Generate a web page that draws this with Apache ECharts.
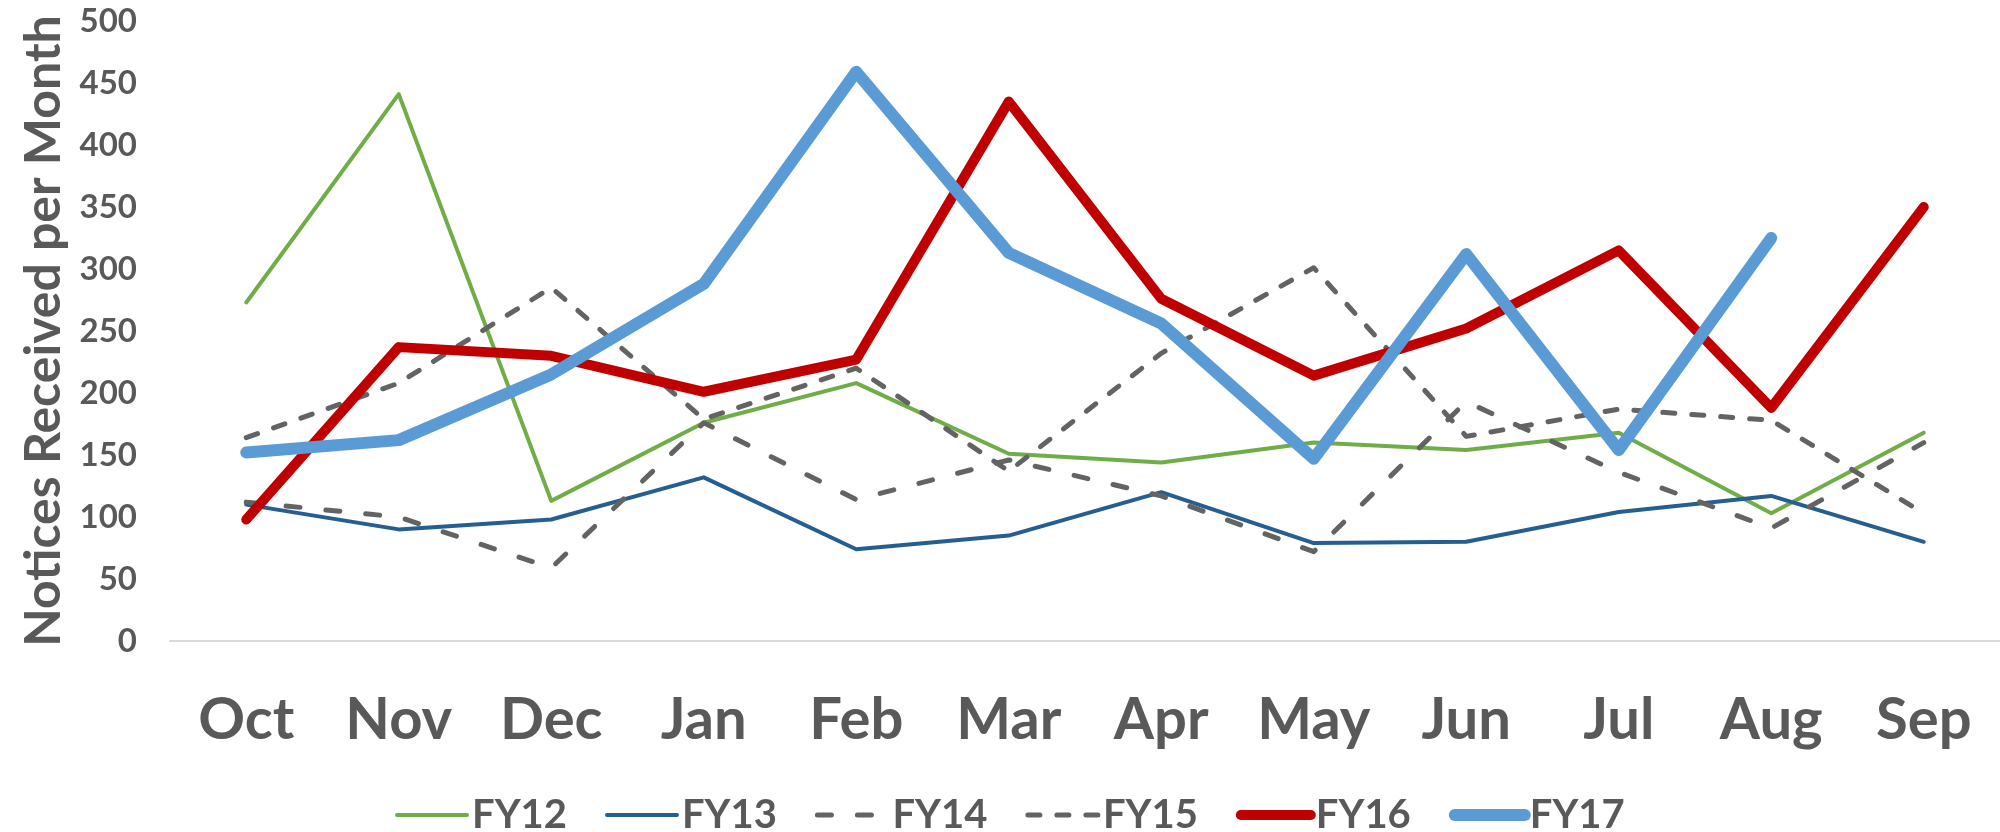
<!DOCTYPE html>
<html>
<head>
<meta charset="utf-8">
<script src="https://cdn.jsdelivr.net/npm/echarts@6/dist/echarts.min.js"></script>
<style>
  html, body { margin: 0; padding: 0; background: #fff; }
  #chart { width: 2000px; height: 832px; }
</style>
</head>
<body>
<div id="chart"></div>
<script>
// months of the fiscal year
const months = ['Oct', 'Nov', 'Dec', 'Jan', 'Feb', 'Mar', 'Apr', 'May', 'Jun', 'Jul', 'Aug', 'Sep']

// notices received per month
const fy12 = [273, 441, 113, 176, 208, 151, 144, 160, 154, 168, 103, 168]
const fy13 = [110, 90, 98, 132, 74, 85, 120, 79, 80, 104, 117, 80]
const fy14 = [112, 100, 59, 176, 114, 146, 117, 72, 193, 136, 91, 160]
const fy15 = [164, 208, 285, 179, 220, 137, 232, 301, 165, 187, 178, 103]
const fy16 = [98, 237, 230, 201, 227, 435, 276, 214, 252, 315, 188, 350]
const fy17 = [152, 162, 215, 288, 459, 313, 256, 147, 312, 154, 325, null]

const textColor = '#595959'
const font = 'Lato'

let myChart = echarts.init(document.getElementById('chart'))

function lineSeries(name, data, color, width, dash) {
  return {
    name: name,
    type: 'line',
    data: data,
    symbol: 'none',
    silent: true,
    animation: false,
    itemStyle: { color: color },
    lineStyle: {
      color: color,
      width: width,
      type: dash || 'solid',
      cap: 'round',
      join: 'round'
    }
  }
}

let option = {
  backgroundColor: '#fff',
  grid: {
    left: 170,
    right: -7,
    top: 21,
    bottom: 191
  },
  legend: {
    left: 390,
    top: 790,
    itemWidth: 70,
    itemHeight: 14,
    itemGap: 38,
    itemStyle: { opacity: 0 },
    textStyle: {
      color: textColor,
      fontFamily: font,
      fontWeight: 'bold',
      fontSize: 40
    },
    data: [
      { name: 'FY12', lineStyle: { width: 4 } },
      { name: 'FY13', lineStyle: { width: 4 } },
      { name: 'FY14', lineStyle: { width: 5 } },
      { name: 'FY15', lineStyle: { width: 5 } },
      { name: 'FY16', lineStyle: { width: 10 } },
      { name: 'FY17', lineStyle: { width: 12 } }
    ]
  },
  xAxis: {
    type: 'category',
    data: months,
    boundaryGap: true,
    axisLine: { lineStyle: { color: '#D9D9D9', width: 2 } },
    axisTick: { show: false },
    axisLabel: {
      margin: 50,
      color: textColor,
      fontFamily: font,
      fontWeight: 'bold',
      fontSize: 58
    },
    splitLine: { show: false }
  },
  yAxis: {
    type: 'value',
    min: 0,
    max: 500,
    interval: 50,
    name: 'Notices Received per Month',
    nameLocation: 'middle',
    nameGap: 101,
    nameTextStyle: {
      color: textColor,
      fontFamily: font,
      fontWeight: 'bold',
      fontSize: 50
    },
    axisLine: { show: false },
    axisTick: { show: false },
    splitLine: { show: false },
    axisLabel: {
      margin: 33,
      color: textColor,
      fontFamily: font,
      fontWeight: 'bold',
      fontSize: 33
    }
  },
  series: [
    lineSeries('FY12', fy12, '#70AD47', 4),
    lineSeries('FY13', fy13, '#255E91', 4),
    lineSeries('FY14', fy14, '#636363', 5, [14, 26]),
    lineSeries('FY15', fy15, '#636363', 5, [12, 17]),
    lineSeries('FY16', fy16, '#C00000', 10),
    lineSeries('FY17', fy17, '#5B9BD5', 12)
  ]
}

myChart.setOption(option)
</script>
</body>
</html>
